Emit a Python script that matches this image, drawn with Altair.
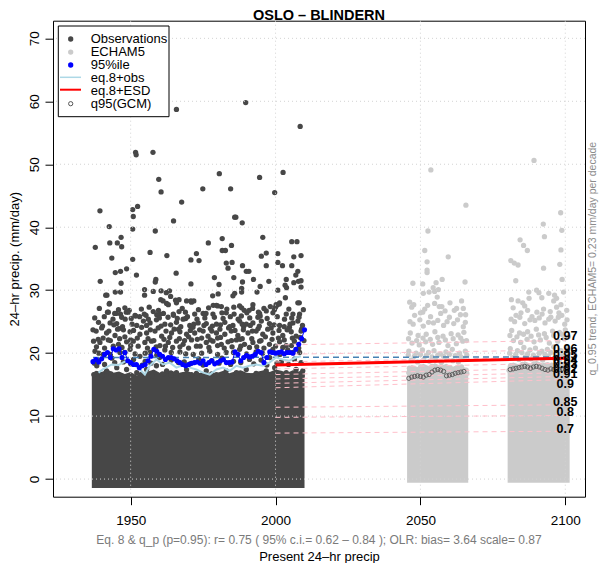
import altair as alt
import pandas as pd

FONT = "Liberation Sans"
DARK = "#474747"
LIGHT = "#cbcbcb"

# ---------------- axes ----------------
x_domain = [1923.2, 2106.8]
y_domain = [-2.8, 72.8]
x_ticks = [1950, 2000, 2050, 2100]
y_ticks = [0, 10, 20, 30, 40, 50, 60, 70]

# ---------------- observations (scattered daily values: year, mm/day) ----------------
obs_high = [
    (2008.5, 56.0), (1951.7, 51.9), (1951.9, 51.5), (1957.7, 51.9), (1939.4, 42.6),
    (1950.7, 42.8), (1950.9, 41.7), (1952.4, 43.3), (1942.6, 40.1), (1959.7, 47.6),
    (1960.5, 45.6), (1967.6, 44.0), (1964.8, 41.0), (1950.7, 39.7), (1958.5, 39.4),
    (1974.9, 46.1), (1980.6, 48.5), (1984.5, 46.1), (1985.9, 41.6), (1986.3, 41.6),
    (1988.5, 40.7), (1994.5, 47.9), (1999.7, 45.5), (2002.6, 48.7), (1965.8, 58.7),
    (1989.7, 59.8),
]
obs_upper = [
    (1937.8, 36.8), (1942.8, 37.5), (1945.4, 37.5), (1946.7, 38.4), (1946.9, 36.9),
    (1943.5, 35.1), (1939.5, 31.4), (1941.4, 29.2), (1941.8, 29.2), (1944.7, 32.8),
    (1946.5, 33.0), (1948.6, 33.4), (1944.7, 29.7), (1946.5, 29.7), (1946.7, 31.1),
    (1942.6, 27.8), (1950.7, 34.9), (1952.0, 32.4), (1956.7, 36.0), (1958.5, 31.3),
    (1958.7, 31.7), (1954.8, 30.1), (1954.8, 29.2), (1957.8, 29.8), (1960.5, 29.9),
    (1962.3, 29.6), (1963.4, 29.9), (1960.4, 28.5), (1962.4, 27.9), (1963.8, 29.0),
    (1965.5, 28.4), (1966.7, 28.5), (1962.5, 35.5), (1965.7, 32.7), (1970.8, 34.8),
    (1972.7, 35.8), (1973.6, 34.7), (1970.8, 31.0), (1970.8, 28.3), (1971.8, 28.3),
    (1976.8, 37.5), (1981.6, 38.2), (1981.6, 36.3), (1982.7, 36.3), (1984.8, 37.1),
    (1983.0, 34.3), (1985.0, 34.4), (1983.6, 33.5), (1978.9, 32.0), (1980.5, 30.9),
    (1978.3, 29.1), (1980.2, 29.4), (1985.6, 32.0), (1988.6, 33.9), (1989.9, 33.0),
    (1990.8, 33.0), (1988.6, 31.3), (1988.3, 30.3), (1988.3, 29.7), (1985.9, 29.5),
    (1985.3, 29.1), (1992.4, 31.7), (1993.6, 29.7), (1994.7, 30.6), (1995.1, 35.4),
    (1996.8, 35.9), (1995.6, 38.4), (1996.8, 33.9), (1997.7, 31.4), (2000.8, 35.8),
    (2000.8, 34.4), (2002.4, 33.9), (2000.8, 30.0), (2005.6, 37.7), (2007.4, 37.7),
    (2006.3, 35.3), (2008.8, 35.5), (2005.6, 33.9), (2007.7, 33.0), (2007.0, 32.4),
    (2006.3, 31.2), (2007.9, 31.4), (2008.8, 31.5), (2008.8, 30.5), (2003.7, 31.7),
    (2003.3, 30.8), (2003.8, 30.4), (2003.4, 28.8), (2001.3, 27.8), (2000.4, 27.6),
    (2008.2, 28.0), (2000.0, 27.3), (1999.6, 26.9), (1988.3, 27.2), (1989.2, 26.8),
    (1992.1, 27.1), (1994.1, 26.5), (1994.7, 25.9), (1975.0, 26.3), (1976.0, 26.3),
    (1978.5, 27.6), (1980.0, 27.5), (1981.5, 26.4), (1942.0, 26.5), (1944.5, 26.3),
    (1946.5, 26.2), (1948.5, 26.5), (1949.5, 26.8), (1951.5, 26.0), (1954.7, 26.2),
    (1957.8, 26.6), (1959.0, 26.1), (1961.3, 26.3), (1964.8, 26.0), (1966.7, 26.6),
    (1969.0, 25.5),
]
obs_mid = [
    (1942.7, 27.9), (1961.2, 28.3), (1963.0, 27.7), (1965.8, 28.0), (1969.3, 28.3),
    (1971.0, 28.1), (1979.6, 27.6), (1981.3, 27.4), (1987.6, 27.5), (1992.2, 27.7),
    (2000.2, 27.7), (2001.4, 28.0), (2007.7, 28.0),
    (1942.3, 26.5), (1945.0, 26.3), (1949.2, 26.5), (1951.7, 25.9), (1955.3, 26.0),
    (1960.1, 26.2), (1964.7, 26.2), (1968.9, 26.5), (1972.1, 26.2), (1978.4, 26.2),
    (1983.0, 26.4), (1985.7, 26.2), (1988.2, 25.9), (1990.1, 26.4), (1994.5, 26.3),
    (1996.8, 26.7), (1999.1, 26.4), (2003.7, 26.2), (2006.0, 26.2), (2008.3, 26.2),
    (1938.9, 24.9), (1942.9, 24.8), (1945.2, 24.7), (1948.1, 25.4), (1952.1, 24.4),
    (1954.4, 25.1), (1956.7, 24.8), (1958.9, 25.3), (1961.8, 24.6), (1965.8, 24.9),
    (1968.1, 25.4), (1970.4, 24.4), (1973.3, 24.8), (1976.1, 24.7), (1979.6, 24.6),
    (1982.5, 24.9), (1985.3, 24.4), (1987.6, 25.1), (1989.9, 24.6), (1992.2, 24.8),
    (1995.1, 25.1), (1997.9, 24.7), (2001.4, 24.4), (2006.0, 24.8), (2007.7, 25.1),
    (1940.0, 24.0), (1946.0, 23.9), (1953.8, 24.1), (1959.5, 24.0), (1966.5, 23.8),
    (1971.5, 24.1), (1977.5, 23.9), (1983.8, 24.0), (1989.0, 24.2), (1994.0, 23.9),
    (1998.5, 24.0), (2004.8, 24.1), (2009.0, 23.8),
    (1938.1, 23.5), (1941.7, 23.2), (1944.6, 22.8), (1947.5, 23.7), (1949.8, 23.4),
    (1953.2, 23.0), (1955.5, 23.2), (1958.4, 23.5), (1960.7, 22.7), (1964.1, 23.2),
    (1967.0, 23.4), (1969.3, 23.0), (1972.1, 23.2), (1975.0, 23.5), (1976.7, 22.7),
    (1979.6, 23.2), (1982.5, 23.0), (1984.7, 23.5), (1987.0, 22.8), (1990.5, 23.2),
    (1993.3, 23.5), (1995.6, 23.0), (1999.1, 23.2), (2002.5, 22.8), (2005.4, 23.4),
    (2007.1, 22.7),
    (1940.5, 22.4), (1948.0, 22.6), (1956.0, 22.3), (1963.5, 22.5), (1970.0, 22.6),
    (1974.5, 22.4), (1981.0, 22.5), (1988.5, 22.3), (1996.5, 22.6), (2001.0, 22.4),
    (2008.5, 22.5),
    (1937.2, 21.9), (1939.4, 21.7), (1942.3, 22.1), (1945.8, 21.4), (1948.6, 21.8),
    (1950.9, 21.9), (1952.6, 21.1), (1954.9, 21.7), (1957.2, 21.9), (1960.1, 21.2),
    (1963.0, 21.7), (1965.8, 21.9), (1968.1, 21.4), (1971.0, 22.1), (1972.7, 21.1),
    (1976.1, 21.7), (1978.4, 21.9), (1981.3, 21.4), (1983.6, 21.8), (1986.5, 22.1),
    (1989.3, 21.4), (1992.2, 21.7), (1994.5, 21.9), (1997.9, 21.4), (2001.4, 21.8),
    (2003.7, 21.2), (2006.5, 21.9),
    (1937.7, 20.3), (1940.6, 19.8), (1946.3, 20.1), (1949.8, 20.6), (1953.2, 19.5),
    (1956.7, 20.1), (1961.8, 20.5), (1967.0, 20.2), (1971.6, 19.8), (1977.3, 20.3),
    (1983.0, 20.1), (1987.6, 20.6), (1993.3, 20.2), (1999.1, 20.6), (2004.2, 20.5),
    (2008.3, 20.1),
    (1939.0, 18.8), (1943.5, 19.2), (1947.5, 18.6), (1951.0, 19.0), (1955.0, 18.7),
    (1960.0, 19.3), (1964.0, 18.9), (1968.5, 18.6), (1973.5, 19.1), (1978.0, 18.8),
    (1981.5, 19.2), (1985.5, 18.7), (1991.0, 19.0), (1995.0, 18.9), (1998.0, 19.3),
    (2002.0, 18.6), (2006.5, 19.0),
    (1938.3, 18.0), (1941.7, 17.2), (1945.2, 17.7), (1948.6, 17.4), (1952.1, 16.9),
    (1955.5, 17.4), (1958.9, 18.0), (1962.4, 17.2), (1965.8, 16.9), (1969.3, 17.4),
    (1972.7, 16.8), (1976.1, 17.2), (1979.6, 16.6), (1983.0, 17.2), (1986.5, 16.9),
    (1989.9, 17.4), (1993.3, 16.8), (1996.8, 17.2), (1999.7, 17.7), (2003.7, 16.9),
    (2007.1, 17.4), (2009.4, 17.2),
]
obs_dense = [
    (1939.2, 27.1), (1945.8, 26.9), (1948.0, 27.2), (1953.7, 27.0), (1956.4, 27.3),
    (1959.6, 26.8), (1967.8, 27.1), (1973.4, 26.9), (1976.9, 27.2), (1983.2, 27.0),
    (1985.6, 27.3), (1990.9, 26.8), (1996.0, 27.1), (1998.2, 27.4), (2004.6, 27.0),
    (2009.6, 26.9),
    (1937.6, 25.6), (1940.9, 25.8), (1943.9, 25.4), (1946.9, 25.7), (1950.2, 25.5),
    (1953.1, 25.8), (1956.1, 25.4), (1959.9, 25.6), (1962.9, 25.7), (1966.1, 25.5),
    (1969.6, 25.8), (1972.9, 25.4), (1975.6, 25.6), (1978.9, 25.7), (1981.9, 25.5),
    (1984.4, 25.8), (1987.1, 25.4), (1991.1, 25.6), (1993.9, 25.7), (1997.1, 25.5),
    (2000.6, 25.8), (2003.1, 25.4), (2005.6, 25.6), (2008.1, 25.7),
    (1940.3, 24.3), (1944.2, 24.5), (1947.2, 24.2), (1950.5, 24.6), (1955.5, 24.4),
    (1960.5, 24.3), (1963.8, 24.5), (1967.3, 24.2), (1971.8, 24.6), (1975.3, 24.4),
    (1978.2, 24.3), (1981.0, 24.5), (1984.2, 24.2), (1988.5, 24.6), (1991.3, 24.4),
    (1994.4, 24.3), (1999.5, 24.5), (2003.0, 24.2), (2005.0, 24.6), (2009.3, 24.4),
    (1937.0, 23.7), (1942.5, 23.5), (1945.5, 23.8), (1951.0, 23.6), (1956.8, 23.7),
    (1962.2, 23.5), (1965.0, 23.8), (1970.6, 23.6), (1973.8, 23.7), (1978.0, 23.5),
    (1980.8, 23.8), (1986.0, 23.6), (1988.9, 23.7), (1992.0, 23.5), (1997.3, 23.8),
    (2001.2, 23.6), (2004.0, 23.7), (2008.8, 23.5),
    (1938.8, 22.2), (1943.0, 22.0), (1946.2, 22.3), (1950.0, 22.1), (1952.3, 22.4),
    (1958.0, 22.0), (1961.5, 22.2), (1966.8, 22.3), (1968.6, 22.0), (1973.0, 22.2),
    (1977.5, 22.1), (1980.0, 22.4), (1984.8, 22.0), (1987.8, 22.2), (1991.8, 22.3),
    (1995.0, 22.0), (1998.8, 22.2), (2003.0, 22.1), (2005.8, 22.4), (2009.8, 22.0),
    (1938.2, 21.0), (1941.0, 20.8), (1944.0, 21.1), (1947.0, 20.9), (1950.0, 21.2),
    (1955.8, 20.8), (1958.8, 21.0), (1962.0, 21.1), (1964.5, 20.9), (1967.0, 21.0),
    (1970.0, 20.8), (1974.0, 21.1), (1977.0, 20.9), (1980.0, 21.2), (1982.3, 20.8),
    (1985.0, 21.0), (1988.0, 21.1), (1991.0, 20.9), (1993.5, 21.0), (1996.0, 20.8),
    (2000.0, 21.1), (2002.5, 20.9), (2005.5, 21.2), (2008.0, 20.8),
    (1939.0, 20.0), (1943.0, 19.8), (1948.0, 20.1), (1951.5, 19.9), (1955.0, 20.0),
    (1959.0, 19.7), (1964.0, 20.1), (1969.0, 19.9), (1974.5, 20.0), (1980.0, 19.8),
    (1985.5, 20.1), (1990.0, 19.9), (1995.5, 20.0), (2001.5, 19.8), (2006.0, 20.1),
    (1937.5, 18.4), (1941.0, 18.2), (1944.5, 18.5), (1950.0, 18.3), (1954.0, 18.1),
    (1957.0, 18.4), (1961.0, 18.2), (1966.5, 18.5), (1970.5, 18.3), (1975.0, 18.1),
    (1980.5, 18.4), (1984.5, 18.2), (1988.0, 18.5), (1992.5, 18.3), (1997.0, 18.1),
    (2000.5, 18.4), (2004.5, 18.2), (2008.8, 18.5),
    (1937.3, 16.6), (1940.2, 16.4), (1943.2, 16.7), (1946.0, 16.5), (1949.5, 16.3),
    (1953.5, 16.6), (1957.5, 16.4), (1961.0, 16.7), (1964.0, 16.5), (1967.5, 16.3),
    (1971.0, 16.6), (1974.5, 16.4), (1978.0, 16.7), (1981.5, 16.5), (1985.0, 16.3),
    (1988.5, 16.6), (1992.0, 16.4), (1995.5, 16.7), (1998.8, 16.5), (2002.3, 16.3),
    (2005.8, 16.6), (2009.2, 16.4),
]
# envelope of the solid mass of observed daily values
obs_core_x = [1936.6, 1938, 1940, 1942, 1944, 1946, 1948, 1950, 1952, 1954, 1956, 1958,
              1960, 1962, 1964, 1966, 1968, 1970, 1972, 1974, 1976, 1978, 1980, 1982,
              1984, 1986, 1988, 1990, 1992, 1994, 1996, 1998, 2000, 2002, 2004, 2006,
              2008, 2010.0]
obs_core_top = [16.8, 17.2, 17.0, 17.4, 16.9, 17.1, 16.7, 17.0, 16.5, 16.6, 17.1, 17.4,
                16.9, 17.1, 17.3, 16.8, 17.0, 17.1, 16.7, 16.9, 17.1, 16.6, 16.9, 17.2,
                16.8, 17.1, 17.3, 16.9, 16.8, 17.1, 17.3, 17.0, 17.4, 17.2, 16.9, 17.3,
                17.1, 17.5]
obs_core_bottom = -1.4

# ---------------- ECHAM5 (scattered daily values) ----------------
gcm_points = [
    (2053.6, 49.1), (2065.7, 43.5), (2052.6, 39.4), (2051.5, 36.3), (2052.3, 34.5),
    (2052.3, 33.2), (2052.3, 32.8), (2047.4, 31.1), (2050.8, 31.0), (2051.0, 29.5),
    (2053.0, 29.7), (2054.9, 29.8), (2056.2, 30.1), (2057.5, 31.7), (2055.4, 31.2),
    (2054.4, 30.4), (2059.6, 35.3), (2065.4, 31.3), (2046.3, 28.1), (2047.7, 27.7),
    (2050.0, 26.4), (2050.8, 26.5), (2052.5, 27.6), (2054.9, 27.9), (2055.8, 28.9),
    (2057.4, 27.4), (2058.5, 26.7), (2060.2, 28.0), (2061.7, 26.8), (2064.2, 28.3),
    (2064.8, 27.1), (2065.6, 26.1),
    (2046.2, 17.6), (2048.0, 17.3), (2050.1, 17.8), (2052.3, 17.4), (2054.0, 17.9),
    (2056.2, 17.5), (2058.1, 17.2), (2060.3, 17.7), (2062.0, 17.4), (2064.2, 17.8),
    (2065.8, 17.3),
    (2046.8, 18.9), (2049.0, 18.6), (2051.2, 19.0), (2053.1, 18.7), (2055.3, 18.9),
    (2057.2, 18.5), (2059.1, 19.1), (2061.2, 18.8), (2063.1, 18.6), (2065.2, 19.0),
    (2046.0, 20.3), (2048.5, 20.0), (2050.7, 20.5), (2052.8, 20.1), (2054.7, 20.4),
    (2056.9, 19.9), (2058.8, 20.2), (2061.0, 20.6), (2063.5, 20.0), (2065.5, 20.3),
    (2047.1, 21.6), (2049.6, 21.3), (2051.8, 21.8), (2054.2, 21.4), (2056.4, 21.7),
    (2059.5, 21.2), (2062.4, 21.5), (2064.6, 21.9),
    (2046.5, 23.2), (2049.2, 22.8), (2052.0, 23.0), (2055.0, 23.4), (2057.8, 22.7),
    (2060.6, 23.1), (2063.0, 22.9), (2065.0, 23.3),
    (2047.5, 24.6), (2051.0, 24.3), (2054.5, 24.8), (2058.0, 24.4), (2061.5, 24.7),
    (2064.8, 24.2),
    (2048.0, 26.0), (2053.5, 25.8), (2057.0, 26.3), (2060.0, 25.7), (2063.8, 26.1),
    (2047.0, 27.3), (2051.5, 27.0), (2056.5, 27.4), (2062.5, 27.1),
    (2046.4, 25.0), (2049.8, 25.3), (2052.8, 24.9), (2056.0, 25.2), (2059.2, 25.0),
    (2062.8, 25.3), (2065.5, 24.9),
    (2045.9, 22.3), (2048.7, 22.0), (2050.9, 22.4), (2053.4, 22.2), (2056.0, 22.5),
    (2058.6, 22.1), (2061.3, 22.3), (2063.9, 22.4), (2065.9, 22.0),
    (2045.8, 19.7), (2047.9, 19.5), (2050.0, 19.8), (2052.0, 19.6), (2054.0, 19.4),
    (2056.0, 19.7), (2058.0, 19.5), (2060.0, 19.8), (2062.0, 19.6), (2064.0, 19.4),
    (2066.0, 19.7),
    (2046.0, 16.9), (2048.5, 16.7), (2051.0, 17.0), (2053.5, 16.8), (2056.0, 16.6),
    (2058.5, 16.9), (2061.0, 16.7), (2063.5, 17.0), (2066.0, 16.8),
    (2089.2, 50.6), (2098.4, 42.3), (2084.4, 38.0), (2085.6, 37.1), (2086.9, 36.3),
    (2081.2, 34.7), (2082.4, 34.3), (2083.7, 34.0), (2082.9, 31.5), (2092.4, 40.5),
    (2092.8, 38.5), (2092.5, 33.5), (2098.8, 39.5), (2098.5, 36.4), (2098.1, 34.1),
    (2098.9, 31.7), (2081.4, 28.5), (2083.7, 28.3), (2085.3, 28.0), (2087.4, 29.7),
    (2087.5, 28.7), (2090.1, 30.0), (2090.9, 29.6), (2091.9, 28.8), (2094.3, 29.5),
    (2096.3, 29.2), (2096.0, 28.3), (2097.0, 28.7), (2099.4, 29.7), (2098.5, 27.7),
    (2100.5, 26.8), (2084.7, 26.4), (2087.0, 26.8), (2090.2, 26.5), (2094.8, 26.6),
    (2097.8, 26.4),
    (2081.1, 18.0), (2083.0, 17.7), (2085.2, 18.2), (2087.3, 17.8), (2089.1, 18.3),
    (2091.2, 17.9), (2093.0, 17.6), (2095.3, 18.1), (2097.1, 17.8), (2099.2, 18.2),
    (2100.8, 17.7),
    (2081.8, 19.3), (2084.0, 19.0), (2086.2, 19.4), (2088.1, 19.1), (2090.3, 19.3),
    (2092.2, 18.9), (2094.1, 19.5), (2096.2, 19.2), (2098.1, 19.0), (2100.2, 19.4),
    (2081.0, 20.7), (2083.5, 20.4), (2085.7, 20.9), (2087.8, 20.5), (2089.7, 20.8),
    (2091.9, 20.3), (2093.8, 20.6), (2096.0, 21.0), (2098.5, 20.4), (2100.5, 20.7),
    (2082.1, 22.0), (2084.6, 21.7), (2086.8, 22.2), (2089.2, 21.8), (2091.4, 22.1),
    (2094.5, 21.6), (2097.4, 21.9), (2099.6, 22.3),
    (2081.5, 23.6), (2084.2, 23.2), (2087.0, 23.4), (2090.0, 23.8), (2092.8, 23.1),
    (2095.6, 23.5), (2098.0, 23.3), (2100.0, 23.7),
    (2082.5, 25.0), (2086.0, 24.7), (2089.5, 25.2), (2093.0, 24.8), (2096.5, 25.1),
    (2099.8, 24.6),
    (2083.0, 26.0), (2088.5, 25.8), (2092.0, 26.2), (2095.0, 25.7), (2098.8, 26.0),
    (2082.0, 27.2), (2086.0, 27.5), (2092.5, 27.0), (2097.0, 27.3),
    (2081.3, 25.4), (2084.3, 25.7), (2087.8, 25.3), (2091.0, 25.6), (2094.3, 25.4),
    (2097.6, 25.7), (2100.6, 25.3),
    (2080.9, 22.8), (2083.3, 22.6), (2085.6, 23.0), (2088.2, 22.7), (2090.8, 22.9),
    (2093.4, 22.5), (2096.0, 22.8), (2098.8, 23.0), (2101.0, 22.6),
    (2080.8, 20.0), (2082.9, 19.8), (2085.0, 20.1), (2087.0, 19.9), (2089.0, 19.7),
    (2091.0, 20.0), (2093.0, 19.8), (2095.0, 20.1), (2097.0, 19.9), (2099.0, 19.7),
    (2101.0, 20.0),
    (2080.6, 17.3), (2083.0, 17.1), (2085.5, 17.4), (2088.0, 17.2), (2090.5, 17.0),
    (2093.0, 17.3), (2095.5, 17.1), (2098.0, 17.4), (2100.8, 17.2),
]
gcm1_core_x = [2045.4, 2047, 2049, 2051, 2053, 2055, 2057, 2059, 2061, 2063, 2065, 2066.5]
gcm1_core_top = [17.6, 18.1, 17.8, 18.3, 17.9, 18.4, 18.0, 18.3, 17.8, 18.2, 17.8, 17.5]
gcm2_core_x = [2080.1, 2082, 2084, 2086, 2088, 2090, 2092, 2094, 2096, 2098, 2100, 2101.5]
gcm2_core_top = [18.0, 18.5, 18.2, 18.7, 18.3, 18.8, 18.4, 18.6, 18.2, 18.7, 18.3, 17.9]
gcm_core_bottom = -0.6

# ---------------- annual 95th percentile of observations ----------------
p95_years = list(range(1937, 2011))
p95_vals = [18.65, 19.0, 18.6, 19.1, 19.8, 20.1, 19.3, 20.7, 20.5, 20.7,
            19.3, 20.1, 18.8, 18.5, 18.2, 18.2, 17.7, 18.0, 18.2, 18.8,
            19.5, 20.6, 20.3, 19.8, 19.5, 19.0, 19.3, 19.3, 19.1, 18.8,
            18.5, 18.2, 18.0, 18.2, 18.4, 18.5, 18.6, 18.4, 18.8, 18.2,
            18.5, 18.8, 18.3, 18.5, 18.8, 19.0, 18.5, 18.5, 18.6, 20.2,
            19.8, 18.8, 19.3, 19.6, 19.4, 19.5, 19.8, 20.3, 20.1, 18.5,
            19.3, 20.2, 20.1, 20.0, 20.1, 20.2, 19.9, 20.1, 20.1, 20.0,
            20.6, 21.4, 22.3, 23.7]

# eq.8 + obs (light blue)
eq8obs_years = [1938.9, 1940.6, 1943.5, 1945.7, 1948.6, 1950.9, 1953.2, 1954.9, 1956.6,
                1958.9, 1961.2, 1963.5, 1965.8, 1968.1, 1970.4, 1972.7, 1975.0, 1977.3,
                1979.6, 1981.9, 1984.2, 1986.5, 1988.7, 1991.0, 1993.3, 1995.6, 1997.9,
                2000.2, 2002.5, 2004.8, 2007.1, 2008.8]
eq8obs_vals = [16.9, 17.5, 18.2, 18.1, 18.8, 18.2, 17.4, 16.6, 18.0, 19.0, 18.2, 18.5,
               17.7, 18.1, 17.7, 17.4, 16.9, 16.6, 17.4, 17.7, 17.2, 18.0, 17.7, 18.0,
               18.2, 18.0, 18.5, 19.3, 19.0, 18.8, 19.3, 19.5]

# observed q95 level (dashed steel blue)
obsq95_years = [1937, 2100]
obsq95_vals = [19.3, 19.4]

# eq.8 + ESD (red)
esd_years = [2000, 2100]
esd_vals = [18.1, 19.2]

# q95 of GCM
gcmq95_years_1 = [2046, 2047, 2048, 2049, 2050, 2051, 2052, 2053, 2054, 2055,
                  2056, 2057, 2058, 2059, 2060, 2061, 2062, 2063, 2064, 2065]
gcmq95_vals_1 = [16.0, 16.2, 16.3, 16.4, 16.3, 16.2, 16.5, 16.6, 17.0, 17.3,
                 17.4, 17.3, 17.1, 16.4, 16.5, 16.6, 16.8, 16.9, 17.0, 17.1]
gcmq95_years_2 = [2081, 2082, 2083, 2084, 2085, 2086, 2087, 2088, 2089, 2090,
                  2091, 2092, 2093, 2094, 2095, 2096, 2097, 2098, 2099, 2100]
gcmq95_vals_2 = [17.4, 17.5, 17.6, 17.7, 17.8, 17.9, 17.8, 17.6, 17.8, 17.9,
                 17.8, 17.6, 17.4, 17.3, 17.5, 17.4, 17.3, 17.4, 17.5, 17.6]

# projected quantile lines (pink dashed) and their labels
q_levels = ["0.97", "0.96", "0.95", "0.94", "0.93", "0.92", "0.91", "0.9", "0.85", "0.8", "0.7"]
q_start_year = 2000
q_end_year = 2100
q_at_start = [21.3, 19.8, 18.6, 17.5, 16.6, 15.9, 15.2, 14.5, 11.4, 9.8, 7.3]
q_at_end = [22.0, 20.5, 19.4, 18.4, 17.6, 16.9, 16.3, 15.8, 11.8, 10.1, 7.6]
q_label_vals = [22.8, 20.7, 19.7, 18.9, 18.2, 17.5, 16.7, 15.1, 12.3, 10.6, 7.9]

legend_labels = ["Observations", "ECHAM5", "95%ile", "eq.8+obs", "eq.8+ESD", "q95(GCM)"]
title_text = "OSLO \u2013 BLINDERN"
sub_text = "Eq. 8 & q_p (p=0.95): r= 0.75  ( 95% c.i.= 0.62 \u2013 0.84 ); OLR: bias= 3.64 scale= 0.87"
side_text = "q_0.95 trend, ECHAM5= 0.23 mm/day per decade"
x_title = "Present 24\u2013hr precip"
y_title = "24\u2013hr precip. (mm/day)"

# ---------------- build tables ----------------
obs_df = pd.DataFrame(obs_high + obs_upper + obs_mid + obs_dense, columns=["year", "val"])
gcm_df = pd.DataFrame(gcm_points, columns=["year", "val"])
obs_core_df = pd.DataFrame({"year": obs_core_x, "val": obs_core_top, "bottom": obs_core_bottom})
gcm_core_df = pd.concat([
    pd.DataFrame({"year": gcm1_core_x, "val": gcm1_core_top, "bottom": gcm_core_bottom, "grp": 1}),
    pd.DataFrame({"year": gcm2_core_x, "val": gcm2_core_top, "bottom": gcm_core_bottom, "grp": 2}),
])
p95_df = pd.DataFrame({"year": p95_years, "val": p95_vals})
eq8obs_df = pd.DataFrame({"year": eq8obs_years, "val": eq8obs_vals})
obsq95_df = pd.DataFrame({"year": obsq95_years, "val": obsq95_vals})
esd_df = pd.DataFrame({"year": esd_years, "val": esd_vals})
gcmq95_df = pd.concat([
    pd.DataFrame({"year": gcmq95_years_1, "val": gcmq95_vals_1}),
    pd.DataFrame({"year": gcmq95_years_2, "val": gcmq95_vals_2}),
])
qline_rows = []
for q, a, b in zip(q_levels, q_at_start, q_at_end):
    qline_rows.append({"q": q, "year": q_start_year, "val": a})
    qline_rows.append({"q": q, "year": q_end_year, "val": b})
qline_df = pd.DataFrame(qline_rows)
qlab_df = pd.DataFrame({"q": q_levels, "val": q_label_vals, "year": q_end_year})
xgrid_df = pd.DataFrame({"year": x_ticks})
ygrid_df = pd.DataFrame({"val": y_ticks})

xs = alt.Scale(domain=x_domain, nice=False, zero=False)
ys = alt.Scale(domain=y_domain, nice=False, zero=False)

x_axis = alt.Axis(values=x_ticks, format="d", grid=False, domain=False, ticks=True,
                  tickColor="black", tickSize=8, tickWidth=1,
                  labelFont=FONT, labelFontSize=13.5, labelColor="black", labelPadding=9,
                  title=x_title, titleFont=FONT, titleFontSize=13, titleFontWeight="normal",
                  titleColor="black", titleX=266, titleY=60, titleBaseline="middle",
                  titleAlign="center")
y_axis = alt.Axis(values=y_ticks, grid=False, domain=False, ticks=True,
                  tickColor="black", tickSize=8, tickWidth=1,
                  labelFont=FONT, labelFontSize=13.5, labelColor="black", labelPadding=7,
                  labelAngle=270, labelAlign="center", labelBaseline="alphabetic",
                  title=y_title, titleFont=FONT, titleFontSize=13, titleFontWeight="normal",
                  titleColor="black", titleX=-38.5, titleY=238, titleAngle=270,
                  titleBaseline="middle", titleAlign="center")


def X():
    return alt.X("year:Q", scale=xs, axis=x_axis, title=x_title)


def Y():
    return alt.Y("val:Q", scale=ys, axis=y_axis, title=y_title)


layers = []
layers.append(
    alt.Chart(obs_core_df).mark_area(color=DARK, interpolate="linear").encode(
        x=X(), y=Y(), y2="bottom:Q"
    )
)
layers.append(
    alt.Chart(obs_df).mark_circle(color=DARK, size=28, opacity=1).encode(x=X(), y=Y())
)
layers.append(
    alt.Chart(gcm_core_df).mark_area(color=LIGHT, interpolate="linear").encode(
        x=X(), y=Y(), y2="bottom:Q", detail="grp:N"
    )
)
layers.append(
    alt.Chart(gcm_df).mark_circle(color=LIGHT, size=28, opacity=1).encode(x=X(), y=Y())
)
# dotted grid
layers.append(
    alt.Chart(xgrid_df).mark_rule(color="#d3d3d3", strokeDash=[1, 3], strokeWidth=1).encode(x=X())
)
layers.append(
    alt.Chart(ygrid_df).mark_rule(color="#d3d3d3", strokeDash=[1, 3], strokeWidth=1).encode(y=Y())
)
# quantile lines
layers.append(
    alt.Chart(qline_df).mark_line(color="#ffc0cb", strokeDash=[5, 4], strokeWidth=1).encode(
        x=X(), y=Y(), detail="q:N"
    )
)
layers.append(
    alt.Chart(obsq95_df).mark_line(color="#4682b4", strokeDash=[6, 4], strokeWidth=1.5).encode(
        x=X(), y=Y()
    )
)
layers.append(
    alt.Chart(eq8obs_df).mark_line(color="#add8e6", strokeWidth=2).encode(x=X(), y=Y())
)
layers.append(
    alt.Chart(p95_df).mark_line(color="#0000ff", strokeWidth=1).encode(x=X(), y=Y())
)
layers.append(
    alt.Chart(p95_df).mark_circle(color="#0000ff", size=26, opacity=1).encode(x=X(), y=Y())
)
layers.append(
    alt.Chart(gcmq95_df).mark_point(shape="circle", filled=False, color="#555555",
                                    size=18, strokeWidth=0.9, opacity=1).encode(x=X(), y=Y())
)
layers.append(
    alt.Chart(esd_df).mark_line(color="#ff0000", strokeWidth=3).encode(x=X(), y=Y())
)
layers.append(
    alt.Chart(qlab_df).mark_text(font=FONT, fontSize=12.5, fontWeight="bold", color="black",
                                 align="center", baseline="middle").encode(
        x=X(), y=Y(), text="q:N"
    )
)

# annotations
ann_df = pd.DataFrame({"title": [title_text], "sub": [sub_text], "side": [side_text]})
layers.append(
    alt.Chart(ann_df).mark_text(font=FONT, fontSize=14.5, fontWeight="bold", color="black",
                                align="center", baseline="alphabetic").encode(
        x=alt.value(266), y=alt.value(-1.0), text="title:N"
    )
)
layers.append(
    alt.Chart(ann_df).mark_text(font=FONT, fontSize=12, color="#7a7a7a",
                                align="center", baseline="middle").encode(
        x=alt.value(266), y=alt.value(519.5), text="sub:N"
    )
)
layers.append(
    alt.Chart(ann_df).mark_text(font=FONT, fontSize=10.5, color="#8c8c8c", angle=270,
                                align="center", baseline="middle").encode(
        x=alt.value(540), y=alt.value(238), text="side:N"
    )
)

# legend box
leg_df = pd.DataFrame({"label": legend_labels})
layers.append(
    alt.Chart(leg_df.head(1)).mark_rect(fill="white", stroke="black", strokeWidth=1).encode(
        x=alt.value(5.3), x2=alt.value(116), y=alt.value(5.3), y2=alt.value(96)
    )
)
row_y = [18.3, 31.4, 44.3, 57.6, 70.0, 83.0]
sym_x = 17.7
for i, lab in enumerate(legend_labels):
    one = leg_df.iloc[[i]]
    if i in (0, 1, 2):
        col = [DARK, LIGHT, "#0000ff"][i]
        layers.append(alt.Chart(one).mark_circle(color=col, size=28, opacity=1).encode(
            x=alt.value(sym_x), y=alt.value(row_y[i])))
    elif i in (3, 4):
        col = ["#add8e6", "#ff0000"][i - 3]
        layers.append(alt.Chart(one).mark_rule(color=col, strokeWidth=[1.5, 2][i - 3]).encode(
            x=alt.value(7), x2=alt.value(28), y=alt.value(row_y[i] - 1)))
    else:
        layers.append(alt.Chart(one).mark_point(shape="circle", filled=False, color="#555555",
                                                size=18, strokeWidth=1, opacity=1).encode(
            x=alt.value(sym_x), y=alt.value(row_y[i])))
    layers.append(alt.Chart(one).mark_text(font=FONT, fontSize=13, color="black",
                                           align="left", baseline="middle").encode(
        x=alt.value(37.7), y=alt.value(row_y[i]), text="label:N"))

chart = alt.layer(*layers).properties(
    width=532, height=476,
    autosize=alt.AutoSizeParams(type="none"),
    padding={"left": 45, "top": 12.7, "right": 14, "bottom": 66.3},
    background="white",
).configure_view(stroke="black", strokeWidth=1)

chart.save("out.html", embed_options={"renderer": "svg", "actions": False})
